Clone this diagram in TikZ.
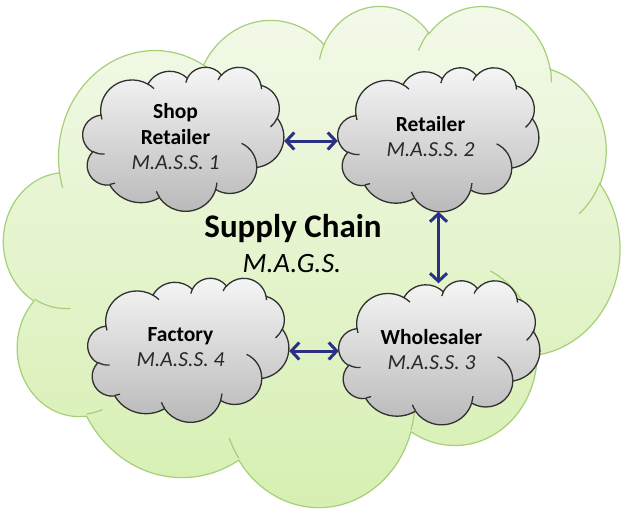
\documentclass[tikz,border=0pt]{standalone}
\usepackage{fontspec}
\setmainfont{Carlito}
\usetikzlibrary{arrows.meta}

\definecolor{skytop}{RGB}{243,249,234}
\definecolor{skybottom}{RGB}{214,239,176}
\definecolor{skyline}{RGB}{166,208,120}
\definecolor{agenttop}{RGB}{246,246,246}
\definecolor{agentmid}{RGB}{232,232,232}
\definecolor{agentbottom}{RGB}{184,184,184}
\definecolor{agentline}{RGB}{48,48,48}
\definecolor{agentsubtext}{RGB}{40,40,40}
\definecolor{linkblue}{RGB}{42,48,132}

% One elliptical arc of an Office-style cloud: x radius, y radius,
% start angle and sweep, the angles being measured as seen on the ellipse.
\newcommand\oarc[4]{%
  arc[start angle={atan2(#1*sin(#3),#2*cos(#3))},
      delta angle={mod(atan2(#1*sin(#3+#4),#2*cos(#3+#4))-atan2(#1*sin(#3),#2*cos(#3))+720,360)},
      x radius=#1, y radius=#2]}

% Cloud outline in a 43.2 x 43.2 box (y pointing down)
\newcommand\cloudrim{%
  (3.900,14.370)
  \oarc{6.753}{9.190}{-190.4875}{123.7805}
  \oarc{5.333}{7.267}{-144.1024}{89.9452}
  \oarc{4.365}{5.945}{-145.8079}{99.7230}
  \oarc{4.857}{6.595}{-130.9861}{117.2417}
  \oarc{5.333}{7.273}{-78.7089}{109.0269}
  \oarc{6.775}{9.220}{-46.2673}{130.2690}
  \oarc{5.785}{7.867}{0.6250}{114.0333}
  \oarc{6.752}{9.215}{22.4516}{115.1726}
  \oarc{7.720}{10.543}{66.2426}{75.7110}
  \oarc{4.360}{5.918}{-274.9421}{146.7356}
  \oarc{4.345}{5.945}{-246.8285}{152.5189}
  -- cycle}

% The short inner strokes where the puffs overlap
\newcommand\cloudcreases{%
  (4.693,26.177) \oarc{4.345}{5.945}{86.7420}{26.4295}
  (6.928,34.899) \oarc{4.360}{5.918}{73.6105}{11.4475}
  (16.478,39.090) \oarc{6.752}{9.215}{137.6242}{14.0811}
  (28.827,34.751) \oarc{6.752}{9.215}{6.4533}{15.9984}
  (34.129,22.954) \oarc{5.785}{7.867}{-70.2924}{70.9174}
  (41.798,15.354) \oarc{5.333}{7.273}{30.3180}{27.7515}
  (38.324,5.426) \oarc{4.857}{6.595}{-13.7443}{14.8589}
  (29.078,3.952) \oarc{4.857}{6.595}{-149.1815}{18.1954}
  (22.141,4.720) \oarc{4.365}{5.945}{-163.4943}{17.6864}
  (14.000,5.192) \oarc{6.753}{9.190}{-66.7070}{12.3194}
  (4.127,15.789) \oarc{6.753}{9.190}{157.6544}{11.8582}}

% Draw a cloud filling the box of node #1 (width #2, height #3) with styles #4rim / #4crease
\newcommand\puffcloud[4]{%
  \begin{scope}[shift={(#1.north west)}, xscale=#2/43.2, yscale=#3/43.2]
    \path[#4rim] \cloudrim;
    \path[#4crease] \cloudcreases;
  \end{scope}}

\newcommand\agentsub{\mdseries\itshape\color{agentsubtext}}

\tikzset{
  skybox/.style={rectangle, inner sep=0pt, minimum width=616pt, minimum height=501pt},
  agentbox/.style={rectangle, inner sep=0pt, minimum width=201pt, minimum height=144pt},
  skyrim/.style={draw=skyline, line width=1.2pt, top color=skytop, bottom color=skybottom},
  skycrease/.style={draw=skyline, line width=1.2pt},
  agentrim/.style={draw=agentline, line width=1.3pt, top color=agenttop,
    middle color=agentmid, bottom color=agentbottom},
  agentcrease/.style={draw=agentline, line width=1.3pt},
  agenttext/.style={align=center, inner sep=0pt, text=black,
    font=\fontsize{21.5}{25.5}\selectfont\bfseries},
  link/.style={{Straight Barb[length=8pt,width=17pt]}-{Straight Barb[length=8pt,width=17pt]},
    line width=3pt, draw=linkblue},
}

\begin{document}
\begin{tikzpicture}[x=1pt, y=-1pt]
  \path[fill=white] (0,0) rectangle (621,512);
  \useasboundingbox (0,0) rectangle (621,512);

  % cloud frames
  \node[skybox]   (chain)  at (312,255.5) {};
  \node[agentbox] (shop)   at (183.5,139) {};
  \node[agentbox] (retail) at (438.5,139.5) {};
  \node[agentbox] (whole)  at (439.5,352.5) {};
  \node[agentbox] (fact)   at (188.5,350) {};

  \puffcloud{chain}{616}{501}{sky}
  \puffcloud{shop}{201}{144}{agent}
  \puffcloud{retail}{201}{144}{agent}
  \puffcloud{whole}{201}{144}{agent}
  \puffcloud{fact}{201}{144}{agent}

  % labels
  \node[anchor=base, inner sep=0pt, font=\fontsize{33}{36}\selectfont\bfseries]
    (chain-title) at (293,237) {Supply Chain};
  \node[anchor=base, inner sep=0pt, font=\fontsize{28}{32}\selectfont\itshape]
    (chain-sub) at (292,272) {M.A.G.S.};

  \node[agenttext] (shop-text) at ([xshift=-8pt,yshift=2pt]shop.center)
    {Shop\\Retailer\\\agentsub M.A.S.S. 1};
  \node[agenttext] (retail-text) at ([xshift=-8pt,yshift=3pt]retail.center)
    {Retailer\\\agentsub M.A.S.S. 2};
  \node[agenttext] (whole-text) at ([xshift=-8pt,yshift=3pt]whole.center)
    {Wholesaler\\\agentsub M.A.S.S. 3};
  \node[agenttext] (fact-text) at ([xshift=-8pt,yshift=3pt]fact.center)
    {Factory\\\agentsub M.A.S.S. 4};

  % links between the agent clouds
  \draw[link] ([yshift=-2pt]shop.east) -- ([yshift=-2pt]shop.east -| retail.west);
  \draw[link] (retail.south) -- ([yshift=-3pt]retail.south |- whole.north);
  \draw[link] ([yshift=-1pt]fact.east) -- ([yshift=-1pt]fact.east -| whole.west);
\end{tikzpicture}
\end{document}
